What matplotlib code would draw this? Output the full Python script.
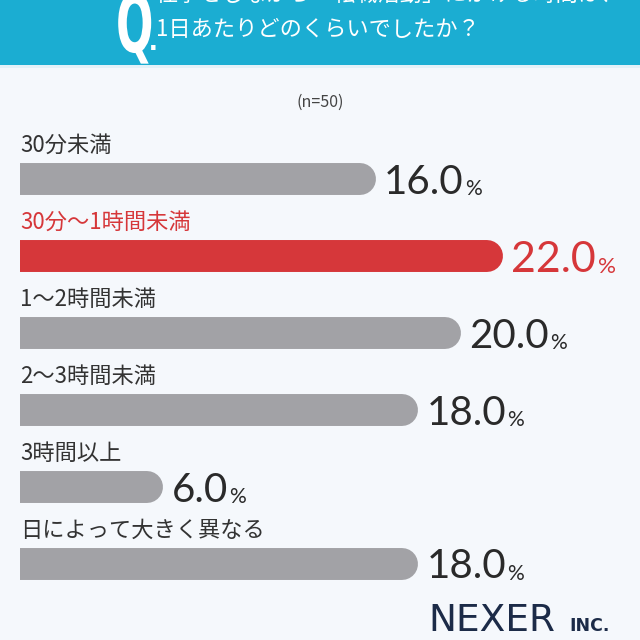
import matplotlib.pyplot as plt
from matplotlib.patches import Rectangle, PathPatch
from matplotlib.textpath import TextPath
from matplotlib.font_manager import FontProperties
from matplotlib.transforms import Affine2D, IdentityTransform

# --- data ---
categories = ["30分未満", "30分～1時間未満", "1～2時間未満", "2～3時間未満", "3時間以上", "日によって大きく異なる"]
values = [16.0, 22.0, 20.0, 18.0, 6.0, 18.0]
highlight = 1  # index of the red bar
question_lines = ["仕事をしながら「転職活動」にかける時間は、", "1日あたりどのくらいでしたか？"]
sample_note = "(n=50)"

JP = ["Noto Sans CJK JP", "DejaVu Sans"]
NUM = ["Lato", "DejaVu Sans"]

BG = "#f5f8fc"
CYAN = "#1badd2"
GRAY = "#a2a2a6"
RED = "#d6373a"
TEXT = "#333333"

W = H = 640
fig = plt.figure(figsize=(6.4, 6.4), dpi=100, facecolor=BG)


def fy(px):
    # pixel row from top -> figure fraction
    return 1 - px / H


# --- header band ---
fig.patches.append(Rectangle((0, fy(65)), 1, 65 / H, transform=fig.transFigure,
                             facecolor=CYAN, edgecolor="none", zorder=0))
fig.patches.append(Rectangle((0, fy(68)), 1, 3 / H, transform=fig.transFigure,
                             facecolor="#e3f1f8", edgecolor="none", zorder=0))

# tall narrow "Q" (top is cut off by the picture edge)
qpath = TextPath((0, 0), "Q", size=80, prop=FontProperties(family="DejaVu Sans", weight="bold"))
qtrans = Affine2D().scale(0.55, 1.0).translate(116, H - 52) + IdentityTransform()
fig.patches.append(PathPatch(qpath, facecolor="white", edgecolor="none", transform=qtrans, zorder=2))
fig.text(149 / W, fy(50), ".", color="white", fontsize=22, fontweight="bold",
         family=["Liberation Sans", "DejaVu Sans"], va="baseline", ha="left")

# first line is mostly cut off by the top edge, as in the source image
fig.text(156 / W, fy(-5.5), question_lines[0], color="white", fontsize=16,
         family=JP, va="center", ha="left")
fig.text(156 / W, fy(30), question_lines[1], color="white", fontsize=16,
         family=JP, va="center", ha="left")

fig.text(0.5, fy(102), sample_note, color="#444444", fontsize=11.5, family=JP,
         ha="center", va="center")

# --- bars ---
row_px = 77
first_px = 179
top_px, bot_px = 140, 610
ax = fig.add_axes([20 / W, fy(bot_px), 620 / W, (bot_px - top_px) / H])
ax.set_xlim(0, 29.2)
ax.set_ylim((bot_px - first_px) / row_px, (top_px - first_px) / row_px)
ax.set_axis_off()

for i, (cat, v) in enumerate(zip(categories, values)):
    col = RED if i == highlight else GRAY
    tcol = RED if i == highlight else TEXT
    ncol = RED if i == highlight else "#2a2a2a"
    ax.plot([-2, v], [i, i], color=col, lw=23, solid_capstyle="round", clip_on=True)
    ax.text(0, i - 34 / row_px, cat, color=tcol, fontsize=16, family=JP,
            ha="left", va="center")
    big = 31 if i == highlight else 29
    num = ax.annotate(f"{v:.1f}", xy=(v, i), xytext=(17.5, -big * 0.36),
                      textcoords="offset points", color=ncol,
                      fontsize=big, family=NUM, ha="left", va="baseline")
    ax.annotate("%", xy=(1, 0), xycoords=num, xytext=(1, 1),
                textcoords="offset points", color=ncol,
                fontsize=big * 0.52, family=NUM, ha="left", va="bottom")

# --- logo ---
fig.text(428 / W, fy(631), "NEXER", color="#1c2b48", fontsize=27, family=["DejaVu Sans"],
         ha="left", va="baseline")
fig.text(569 / W, fy(631), "INC.", color="#1c2b48", fontsize=12.5, fontweight="bold",
         family=["DejaVu Sans"], ha="left", va="baseline")

fig.savefig("out.png", dpi=100, facecolor=BG)
